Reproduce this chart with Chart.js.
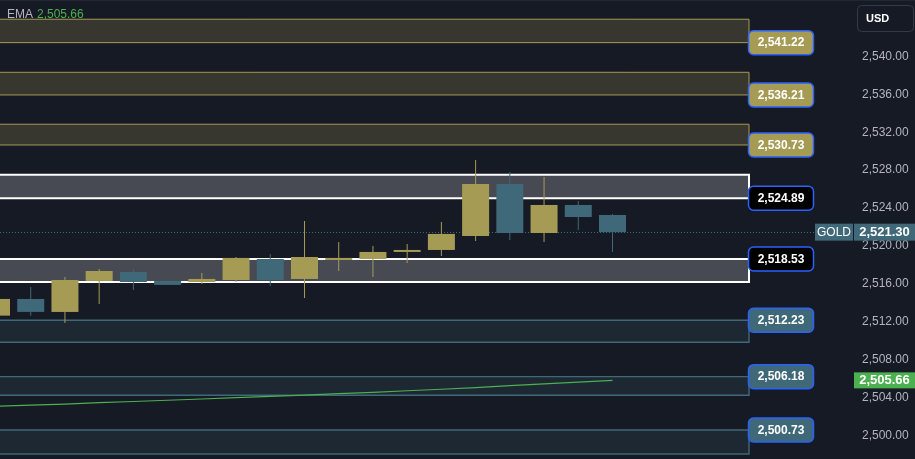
<!DOCTYPE html>
<html><head><meta charset="utf-8">
<script src="https://cdn.jsdelivr.net/npm/chart.js@4.4.1/dist/chart.umd.min.js"></script>
<style>html,body{margin:0;padding:0;background:#161a25;overflow:hidden}#wrap{width:915px;height:459px}</style>
</head><body><div id="wrap"><canvas id="c" width="915" height="459"></canvas></div>
<script>
// ---- data ----
const candleIndex = [0,1,2,3,4,5,6,7,8,9,10,11,12,13,14,15,16,17,18];
const opens  = [2512.49,2514.25,2512.88,2516.15,2517.10,2516.15,2516.04,2516.25,2518.47,2516.36,2518.36,2518.47,2519.21,2519.42,2520.90,2526.39,2521.21,2524.17,2523.11];
const highs  = [2514.35,2515.51,2516.57,2517.41,2517.41,2516.15,2516.99,2518.68,2519.00,2522.48,2520.26,2519.84,2520.05,2522.37,2528.92,2527.65,2527.12,2524.59,2523.22];
const lows   = [2512.40,2512.49,2511.71,2513.72,2515.20,2515.73,2515.83,2516.04,2515.62,2514.35,2517.20,2516.57,2518.05,2518.79,2520.37,2520.47,2520.26,2521.53,2519.21];
const closes = [2514.25,2512.88,2516.25,2517.20,2516.04,2515.73,2516.36,2518.58,2516.25,2518.68,2518.58,2519.21,2519.42,2521.11,2526.39,2521.21,2524.17,2522.90,2521.30];
const emaValues = [2502.92,2503.04,2503.16,2503.30,2503.43,2503.56,2503.69,2503.83,2503.96,2504.10,2504.25,2504.40,2504.56,2504.72,2504.90,2505.10,2505.28,2505.47,2505.66];
const yTickValues = [2500,2504,2508,2512,2516,2520,2524,2528,2532,2536,2540];
const zoneTops    = [2543.77,2538.17,2532.69,2527.37,2518.47,2512.00,2506.05,2500.42];
const zoneBottoms = [2541.30,2535.78,2530.50,2524.88,2516.04,2509.68,2504.08,2497.89];
const zoneLabels  = [2541.22,2536.21,2530.73,2524.89,2518.53,2512.23,2506.18,2500.73];
const zoneKinds   = ['supply','supply','supply','range','range','demand','demand','demand'];
const lastPrice = 2521.30;
const emaLast = 2505.66;
const symbolName = 'GOLD';
const currencyName = 'USD';
const emaName = 'EMA';

// ---- styles / layout ----
const BG = '#161a25';
const UP = '#a69b55', DOWN = '#3f6878';
const X_MIN = 0.1023, X_MAX = 24.94, ZONE_END = 21.98;
const Y_MIN = 2497.36, Y_MAX = 2545.80;
const zoneStyle = {
  supply: {fill:'#37372f', line:'#a69b55', lw:1, label:'#a69b55'},
  range:  {fill:'#474a52', line:'#ffffff', lw:2, label:'#000000'},
  demand: {fill:'#1e2833', line:'#3f6878', lw:1.4, label:'#3f6878'}
};
const fmt = v => v.toLocaleString('en-US',{minimumFractionDigits:2,maximumFractionDigits:2});
const FONT = '"Liberation Sans", Arial, sans-serif';
const candleColors = candleIndex.map((_,i)=> closes[i] >= opens[i] ? UP : DOWN);

function rr(ctx,x,y,w,h,r){ctx.beginPath();ctx.roundRect(x,y,w,h,r);}

const overlay = {
  id:'overlay',
  beforeDatasetsDraw(chart){
    const {ctx, chartArea:a, scales:{x,y}} = chart;
    ctx.save();
    ctx.beginPath(); ctx.rect(a.left,a.top,a.right-a.left,a.bottom-a.top); ctx.clip();
    const xe = Math.round(x.getPixelForValue(ZONE_END));
    zoneTops.forEach((t,i)=>{
      const s = zoneStyle[zoneKinds[i]];
      const yt = y.getPixelForValue(t), yb = y.getPixelForValue(zoneBottoms[i]);
      ctx.fillStyle = s.fill;
      ctx.fillRect(a.left-5, yt, xe-(a.left-5), yb-yt);
      ctx.strokeStyle = s.line; ctx.lineWidth = s.lw;
      ctx.beginPath();
      ctx.moveTo(a.left-5, yt); ctx.lineTo(xe, yt); ctx.lineTo(xe, yb); ctx.lineTo(a.left-5, yb);
      ctx.stroke();
    });
    // last price dotted line
    const py = Math.round(y.getPixelForValue(lastPrice))+0.5;
    ctx.strokeStyle = '#3f6878'; ctx.lineWidth = 1; ctx.setLineDash([1,2]);
    ctx.beginPath(); ctx.moveTo(a.left, py); ctx.lineTo(a.right-35, py); ctx.stroke();
    ctx.restore();
  },
  afterDraw(chart){
    const {ctx, chartArea:a, scales:{x,y}} = chart;
    ctx.save();
    // top border
    ctx.fillStyle = '#232733'; ctx.fillRect(0,0,chart.width,1);
    // zone labels
    const xe = Math.round(x.getPixelForValue(ZONE_END));
    ctx.textAlign = 'center'; ctx.textBaseline = 'middle';
    zoneTops.forEach((t,i)=>{
      const s = zoneStyle[zoneKinds[i]];
      const anchor = zoneBottoms[i] > lastPrice ? zoneBottoms[i] : t;
      const cy = y.getPixelForValue(anchor);
      rr(ctx, xe-0.5, cy-12, 65, 24, 5);
      ctx.fillStyle = s.label; ctx.fill();
      ctx.strokeStyle = '#2962ff'; ctx.lineWidth = 1.5; ctx.stroke();
      ctx.fillStyle = '#ffffff'; ctx.font = 'bold 12px '+FONT;
      ctx.fillText(fmt(zoneLabels[i]), xe-0.5+32.5, cy+0.5);
    });
    // symbol + last price tag
    const py = y.getPixelForValue(lastPrice);
    ctx.fillStyle = '#3f6878';
    ctx.fillRect(a.right-35, py-8.5, 38, 17);
    ctx.fillRect(a.right+4, py-8.5, 61, 17);
    ctx.fillStyle = '#ffffff';
    ctx.font = '12px '+FONT; ctx.fillText(symbolName, a.right-35+19, py+0.5);
    ctx.font = 'bold 13px '+FONT; ctx.fillText(fmt(lastPrice), a.right+4+30.5, py+0.5);
    // EMA tag
    const ey = y.getPixelForValue(emaLast);
    ctx.fillStyle = '#4caf50'; ctx.fillRect(a.right+4, ey-8, 61, 16);
    ctx.fillStyle = '#ffffff'; ctx.fillText(fmt(emaLast), a.right+4+30.5, ey+0.5);
    // currency box
    rr(ctx, 857.5, 5.5, 56, 26, 4);
    ctx.fillStyle = BG; ctx.fill(); ctx.strokeStyle = '#363a45'; ctx.lineWidth = 1; ctx.stroke();
    ctx.fillStyle = '#ffffff'; ctx.font = 'bold 11px '+FONT; ctx.textAlign = 'left';
    ctx.fillText(currencyName, 866, 18.5);
    // legend
    ctx.font = '12px '+FONT;
    ctx.fillStyle = '#b2b5be'; ctx.fillText(emaName, 7, 15);
    ctx.fillStyle = '#4caf50'; ctx.fillText(fmt(emaLast), 37, 15);
    ctx.restore();
  }
};

new Chart(document.getElementById('c'), {
  type:'bar',
  data:{
    datasets:[
      {type:'line', label:'EMA', data: candleIndex.map((v,i)=>({x:v,y:emaValues[i]})),
       borderColor:'#4caf50', borderWidth:1.2, pointRadius:0, tension:0, order:1},
      {label:'bodies', data: candleIndex.map((v,i)=>({x:v,y:[opens[i],closes[i]]})),
       backgroundColor:candleColors, borderWidth:0, barThickness:27, minBarLength:2, grouped:false, order:2, inflateAmount:0},
      {label:'wicks', data: candleIndex.map((v,i)=>({x:v,y:[lows[i],highs[i]]})),
       backgroundColor:candleColors, borderWidth:0, barThickness:1, grouped:false, order:3, inflateAmount:0}
    ]
  },
  options:{
    responsive:false, animation:false, devicePixelRatio:1,
    layout:{padding:0, autoPadding:false},
    plugins:{legend:{display:false}, tooltip:{enabled:false}},
    scales:{
      x:{type:'linear', min:X_MIN, max:X_MAX, display:false, offset:false},
      y:{position:'right', min:Y_MIN, max:Y_MAX,
         grid:{display:false, drawTicks:false}, border:{display:false},
         afterBuildTicks: s => { s.ticks = yTickValues.map(v=>({value:v})); },
         afterFit: s => { s.width = 65; s.paddingTop = 0; s.paddingBottom = 0; },
         ticks:{color:'#b2b5be', padding:12, labelOffset:1.5, font:{family:FONT, size:12}, callback: v => fmt(v)}
      }
    }
  },
  plugins:[overlay]
});
</script></body></html>
